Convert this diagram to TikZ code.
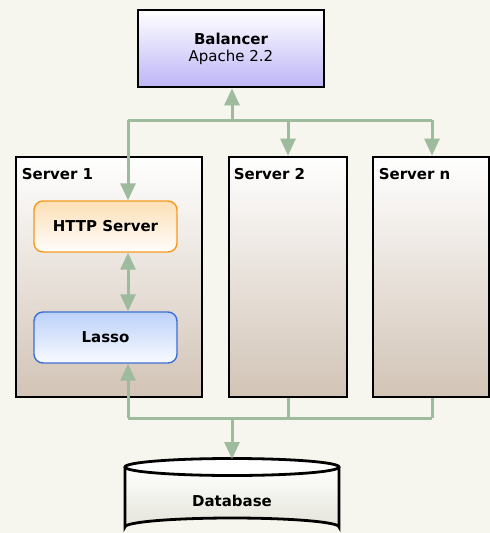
\documentclass[tikz,border=0pt]{standalone}
\usepackage{fontspec}
\setmainfont{DejaVu Sans}
\usetikzlibrary{arrows.meta,calc}
\definecolor{paper}{HTML}{F6F5EE}
\definecolor{wire}{HTML}{9EBB9E}
\definecolor{tan}{HTML}{D2C4B6}
\definecolor{lavender}{HTML}{BDB5F7}
\definecolor{httpedge}{HTML}{F59A1E}
\definecolor{httptop}{HTML}{FCDFB6}
\definecolor{lassoedge}{HTML}{3B6FD6}
\definecolor{lassotop}{HTML}{BCD1FA}
\definecolor{dbgray}{HTML}{E4E4DA}
\tikzset{
  txt/.style={font=\fontsize{15}{17}\selectfont},
  boldtxt/.style={font=\fontsize{15}{17}\selectfont\bfseries},
  serverbox/.style={draw=black, line width=2.8pt, top color=white, bottom color=tan,
    minimum width=#1, minimum height=240pt, inner sep=0pt},
  serverbox/.default=186pt,
  srvlabel/.style={boldtxt, anchor=west, inner sep=0pt},
  balbox/.style={draw=black, line width=2.8pt, top color=white, bottom color=lavender,
    minimum width=186pt, minimum height=77pt, align=center, inner sep=0pt, txt},
  comp/.style={rounded corners=9pt, line width=1.4pt, minimum width=143pt, minimum height=51pt,
    inner sep=0pt, boldtxt},
  wireline/.style={draw=wire, line width=3pt},
  tip/.style={-{Triangle[width=15pt,length=17pt]}},
  tips/.style={{Triangle[width=15pt,length=17pt]}-{Triangle[width=15pt,length=17pt]}},
}
\begin{document}
\begin{tikzpicture}[x=1pt, y=-1pt]
  \fill[paper] (0,0) rectangle (490,533);
  \useasboundingbox (0,0) rectangle (490,533);
  \clip (0,0) rectangle (490,533);

  % balancer
  \node[balbox] (bal) at (231,48.5) {\textbf{Balancer}\\Apache 2.2};

  % servers
  \node[serverbox] (s1) at (109,277) {};
  \node[serverbox=118pt] (s2) at (288,277) {};
  \node[serverbox=116pt] (sn) at (431,277) {};
  \node[srvlabel] (l1) at ($(s1.north west)+(7,18)$) {Server 1};
  \node[srvlabel] (l2) at ($(s2.north west)+(6,18)$) {Server 2};
  \node[srvlabel] (ln) at ($(sn.north west)+(7,18)$) {Server n};

  % components of server 1
  \node[comp, draw=httpedge, top color=httptop, bottom color=white!95!httptop] (http) at (105.5,226.5) {HTTP Server};
  \node[comp, draw=lassoedge, top color=lassotop, bottom color=white!90!lassotop] (lasso) at (105.5,337.5) {Lasso};

  % database cylinder
  \coordinate (dbtop) at (232,459);
  \fill[top color=white, bottom color=dbgray] (125,467) -- (125,527) arc[start angle=180, end angle=360, x radius=107, y radius=9]
    -- (339,467) arc[start angle=0, end angle=180, x radius=107, y radius=9] -- cycle;
  \draw[line width=2.8pt] (125,467) -- (125,527) arc[start angle=180, end angle=360, x radius=107, y radius=9] -- (339,467);
  \draw[line width=2.8pt, fill=white] (232,467) ellipse[x radius=107, y radius=8.5];
  \node[comp, draw=none] (db) at (232,501) {Database};

  % bus coordinates
  \coordinate (ta) at (128,120);
  \coordinate (tb) at (288,120);
  \coordinate (tc) at (432,120);
  \coordinate (tm) at (232,120);
  \coordinate (ba) at (128,418);
  \coordinate (bb) at (288,418);
  \coordinate (bc) at (432,418);
  \coordinate (bm) at (232,418);

  % upper bus
  \draw[wireline] (ta) -- (tc);
  \draw[wireline, tip] (tm) -- (tm |- bal.south);
  \draw[wireline, tip] (ta) -- (ta |- http.north);
  \draw[wireline, tip] (tb) -- (s2.north);
  \draw[wireline, tip] (tc) -- (tc |- sn.north);
  \draw[wireline, tips] (ta |- http.south) -- (ta |- lasso.north);

  % lower bus
  \draw[wireline] (ba) -- (bc);
  \draw[wireline, tip] (ba) -- (ba |- lasso.south);
  \draw[wireline] (s2.south) -- (bb);
  \draw[wireline] (bc |- sn.south) -- (bc);
  \draw[wireline, tip] (bm) -- (dbtop);
\end{tikzpicture}
\end{document}
